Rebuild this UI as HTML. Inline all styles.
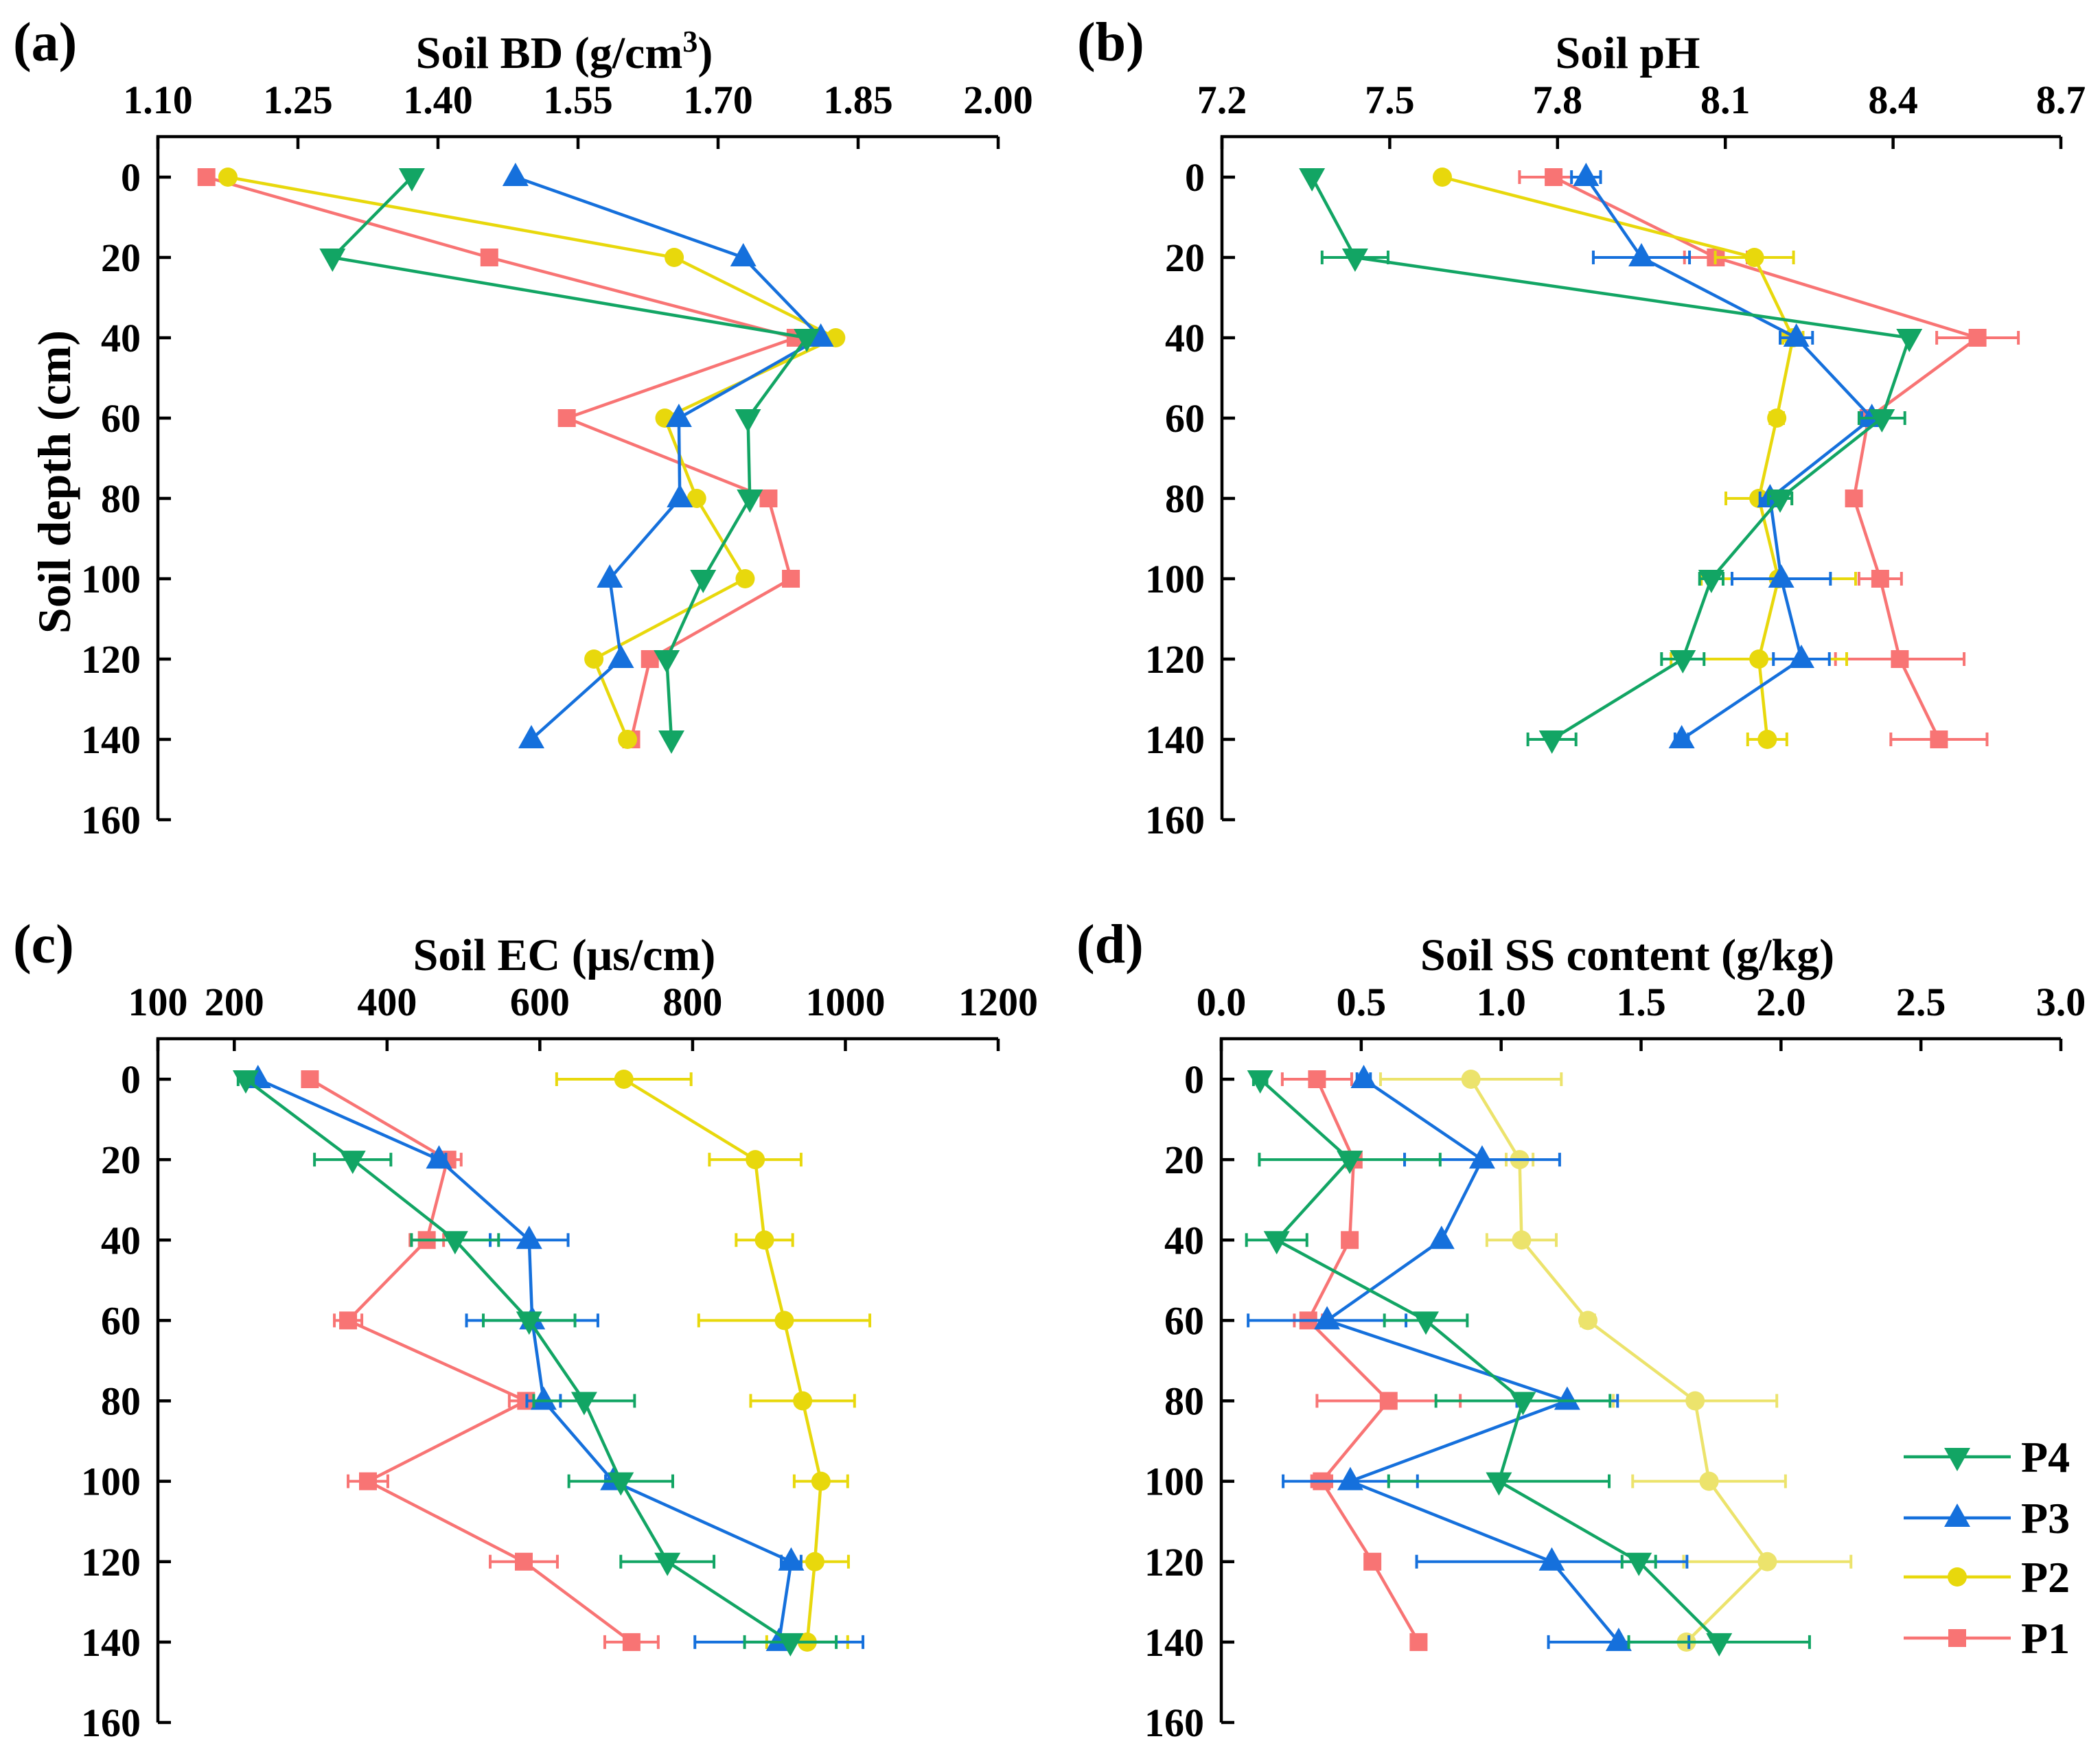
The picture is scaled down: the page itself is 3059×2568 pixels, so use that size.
<!DOCTYPE html>
<html><head><meta charset="utf-8"><style>
html,body{margin:0;padding:0;background:#fff;}
svg{display:block;}
text{font-family:"Liberation Serif","DejaVu Serif",serif;font-weight:bold;fill:#000;}
</style></head>
<body>
<svg id="fig" width="3059" height="2568" viewBox="0 0 3059 2568" xmlns="http://www.w3.org/2000/svg"></svg>
<script>
// ---- data ----
const depths = [0,20,40,60,80,100,120,140];
const depthTicks = [0,20,40,60,80,100,120,140,160];
const seriesNames = ['P1','P2','P3','P4'];

// (a) Soil BD
const bdTicks = [1.10,1.25,1.40,1.55,1.70,1.85,2.00];
const bdTickLabels = ['1.10','1.25','1.40','1.55','1.70','1.85','2.00'];
const bdP1 = [1.152,1.455,1.783,1.538,1.754,1.778,1.627,1.607];
const bdP2 = [1.175,1.653,1.826,1.643,1.677,1.729,1.567,1.603];
const bdP3 = [1.483,1.727,1.810,1.658,1.659,1.584,1.596,1.500];
const bdP4 = [1.372,1.287,1.795,1.732,1.734,1.684,1.645,1.650];

// (b) Soil pH
const phTicks = [7.2,7.5,7.8,8.1,8.4,8.7];
const phTickLabels = ['7.2','7.5','7.8','8.1','8.4','8.7'];
const phP1 = [7.793,8.083,8.551,8.356,8.330,8.377,8.412,8.482];
const phP1err = [0.061,0.056,0.073,0.012,0.005,0.038,0.115,0.086];
const phP2 = [7.594,8.152,8.221,8.192,8.160,8.195,8.160,8.175];
const phP2err = [0,0.070,0.018,0.012,0.059,0.138,0.157,0.035];
const phP3 = [7.851,7.950,8.227,8.362,8.180,8.200,8.236,8.022];
const phP3err = [0.026,0.086,0.029,0.018,0.018,0.088,0.050,0.012];
const phP4 = [7.361,7.438,8.429,8.380,8.198,8.075,8.024,7.790];
const phP4err = [0,0.059,0,0.041,0.021,0.021,0.038,0.043];

// (c) Soil EC
const ecTicks = [100,200,400,600,800,1000,1200];
const ecTickLabels = ['100','200','400','600','800','1000','1200'];
const ecP1 = [299,479,452,349,582,375,579,720];
const ecP1err = [0,18,22,18,22,26,44,35];
const ecP2 = [710,882,894,920,944,968,960,950];
const ecP2err = [88,60,37,112,68,35,44,53];
const ecP3 = [231,468,586,590,605,696,929,913];
const ecP3err = [0,9,51,86,22,10,13,110];
const ecP4 = [215,355,489,586,658,706,767,928];
const ecP4err = [10,50,57,60,66,68,61,60];

// (d) Soil SS content
const ssTicks = [0,0.5,1.0,1.5,2.0,2.5,3.0];
const ssTickLabels = ['0.0','0.5','1.0','1.5','2.0','2.5','3.0'];
const ssP1 = [0.342,0.473,0.459,0.311,0.598,0.359,0.540,0.705];
const ssP1err = [0.124,0.01,0.01,0.05,0.256,0.036,0.01,0.01];
const ssP2 = [0.892,1.066,1.073,1.310,1.693,1.743,1.951,1.662];
const ssP2err = [0.323,0.048,0.124,0.024,0.292,0.273,0.299,0.02];
const ssP3 = [0.509,0.932,0.787,0.378,1.236,0.461,1.181,1.420];
const ssP3err = [0.024,0.277,0.01,0.282,0.18,0.24,0.483,0.251];
const ssP4 = [0.139,0.459,0.198,0.731,1.078,0.992,1.492,1.779];
const ssP4err = [0.024,0.323,0.108,0.148,0.311,0.394,0.06,0.323];

const NS = 'http://www.w3.org/2000/svg';
const FONT = 'Liberation Serif, DejaVu Serif, serif';
const svg = document.getElementById('fig');
function mk(tag, attrs, parent){
  const e = document.createElementNS(NS, tag);
  for (const k in attrs) e.setAttribute(k, attrs[k]);
  if (tag === 'text') { e.setAttribute('font-family', FONT); e.setAttribute('font-weight', 'bold'); }
  (parent||svg).appendChild(e);
  return e;
}
const COL = {P1:'#f87474', P2:'#e8d80c', P3:'#1570dc', P4:'#12a564'};

function drawMarker(g, type, cx, cy, color){
  let m;
  if (type==='P1'){
    m = mk('rect',{x:cx-13,y:cy-13,width:26,height:26,fill:color},g);
  } else if (type==='P2'){
    m = mk('circle',{cx:cx,cy:cy,r:14,fill:color},g);
  } else if (type==='P3'){
    m = mk('polygon',{points:`${cx},${cy-21} ${cx-19},${cy+13} ${cx+19},${cy+13}`,fill:color},g);
  } else {
    m = mk('polygon',{points:`${cx},${cy+21} ${cx-19},${cy-13} ${cx+19},${cy-13}`,fill:color},g);
  }
  
  
}

function panel(p){
  const g = mk('g',{});
  
  
  const X = v => p.x0 + (v - p.vmin)/(p.vmax - p.vmin)*(p.x1 - p.x0);
  const Y = d => p.y0 + d/160*(p.y160 - p.y0);
  const yTop = p.y0 - 59;
  const ax = mk('path',{d:`M${p.x0},${p.y160} L${p.x0},${yTop} L${p.x1},${yTop}`,fill:'none',stroke:'#000','stroke-width':4.5},g);
  
  
  p.ticks.forEach((t,i)=>{
    const x = X(t);
    mk('line',{x1:x,y1:yTop,x2:x,y2:yTop+18,stroke:'#000','stroke-width':4.5},g);
    const tx = mk('text',{x:x,y:yTop-34,'text-anchor':'middle','font-size':58},g);
    tx.textContent = p.tickLabels[i];
    
    
  });
  depthTicks.forEach(d=>{
    const y = Y(d);
    mk('line',{x1:p.x0,y1:y,x2:p.x0+19,y2:y,stroke:'#000','stroke-width':4.5},g);
    const tx = mk('text',{x:p.x0-25,y:y+20,'text-anchor':'end','font-size':58},g);
    tx.textContent = d;
    
    
  });
  const tt = mk('text',{x:(p.x0+p.x1)/2 - 20,y:yTop-100,'text-anchor':'middle','font-size':66},g);
  tt.innerHTML = p.title;
  
  
  const pl = mk('text',{x:p.x0-211,y:yTop-111,'font-size':80},g);
  pl.textContent = p.label;
  
  
  ['P1','P2','P3','P4'].forEach((s,si)=>{
    const vals = p.data[si], errs = p.err ? p.err[si] : null;
    const color = (p.colors && p.colors[s]) || COL[s];
    const sg = mk('g',{},g);
    
    
    const pts = vals.map((v,i)=>`${X(v)},${Y(depths[i])}`).join(' ');
    mk('polyline',{points:pts,fill:'none',stroke:color,'stroke-width':4.5},sg);
    if (errs){
      vals.forEach((v,i)=>{
        if (!errs[i]) return;
        const y = Y(depths[i]), a = X(v-errs[i]), b = X(v+errs[i]);
        const eb = mk('path',{d:`M${a},${y} L${b},${y} M${a},${y-10} L${a},${y+10} M${b},${y-10} L${b},${y+10}`,stroke:color,'stroke-width':4,fill:'none'},sg);
        
        
      });
    }
    vals.forEach((v,i)=> drawMarker(sg, s, X(v), Y(depths[i]), color));
  });
}

const topY0 = 258, topY160 = 1194, botY0 = 1572, botY160 = 2509;
panel({name:'panel-a-bd',label:'(a)',title:'Soil BD (g/cm<tspan dy="-24" font-size="44">3</tspan><tspan dy="24">)</tspan>',
  x0:230,x1:1454,vmin:1.10,vmax:2.00,y0:topY0,y160:topY160,ticks:bdTicks,tickLabels:bdTickLabels,
  data:[bdP1,bdP2,bdP3,bdP4]});
panel({name:'panel-b-ph',label:'(b)',title:'Soil pH',
  x0:1780,x1:3002,vmin:7.2,vmax:8.7,y0:topY0,y160:topY160,ticks:phTicks,tickLabels:phTickLabels,
  data:[phP1,phP2,phP3,phP4],err:[phP1err,phP2err,phP3err,phP4err]});
panel({name:'panel-c-ec',label:'(c)',title:'Soil EC (μs/cm)',
  x0:230,x1:1454,vmin:100,vmax:1200,y0:botY0,y160:botY160,ticks:ecTicks,tickLabels:ecTickLabels,
  data:[ecP1,ecP2,ecP3,ecP4],err:[ecP1err,ecP2err,ecP3err,ecP4err]});
panel({name:'panel-d-ss',label:'(d)',title:'Soil SS content (g/kg)',colors:{P2:'#ece36c'},
  x0:1779,x1:3002,vmin:0,vmax:3.0,y0:botY0,y160:botY160,ticks:ssTicks,tickLabels:ssTickLabels,
  data:[ssP1,ssP2,ssP3,ssP4],err:[ssP1err,ssP2err,ssP3err,ssP4err]});

const yt = mk('text',{x:0,y:0,'text-anchor':'middle','font-size':68,transform:'translate(102,702) rotate(-90)'});
yt.textContent = 'Soil depth (cm)';



const lg = mk('g',{});


const legendOrder = ['P4','P3','P2','P1'];
const legendY = [2122,2211,2297,2386];
legendOrder.forEach((s,i)=>{
  const eg = mk('g',{},lg);
  
  
  const c = s==='P2' ? '#e8d80c' : COL[s];
  mk('line',{x1:2773,y1:legendY[i],x2:2929,y2:legendY[i],stroke:c,'stroke-width':4.5},eg);
  drawMarker(eg, s, 2851, legendY[i], c);
  const t = mk('text',{x:2944,y:legendY[i]+22,'font-size':64},eg);
  t.textContent = s;
});
</script>
</body></html>
